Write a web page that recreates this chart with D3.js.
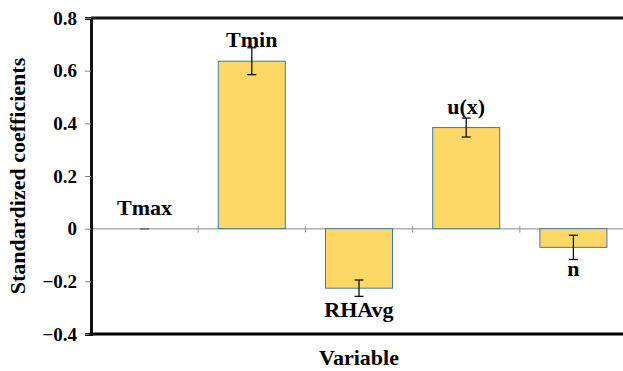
<!DOCTYPE html>
<html>
<head>
<meta charset="utf-8">
<script src="https://cdn.jsdelivr.net/npm/d3@7"></script>
<style>
  body { margin: 0; background: #fff; }
  svg { display: block; }
</style>
</head>
<body>
<div id="chart"></div>
<script>
const variables = ["Tmax", "Tmin", "RHAvg", "u(x)", "n"];
const coefficients = [0, 0.636, -0.226, 0.384, -0.071];
const errors = [0, 0.051, 0.031, 0.036, 0.046];
const yTicks = [-0.4, -0.2, 0, 0.2, 0.4, 0.6, 0.8];

const W = 623, H = 371;
const margin = { top: 18, right: -4, bottom: 37, left: 91 };
const FONT = "Liberation Serif";

const svg = d3.select("#chart").append("svg")
    .attr("width", W)
    .attr("height", H);

const x = d3.scaleBand()
    .domain(variables)
    .range([margin.left, W - margin.right])
    .paddingInner(0.375)
    .paddingOuter(0.1875);

const y = d3.scaleLinear()
    .domain([-0.4, 0.8])
    .range([H - margin.bottom, margin.top]);

const data = variables.map((v, i) => ({ name: v, value: coefficients[i], err: errors[i] }));

// frame top line
svg.append("line")
    .attr("x1", margin.left).attr("x2", W)
    .attr("y1", y(0.8)).attr("y2", y(0.8))
    .attr("stroke", "#111").attr("stroke-width", 3);

// zero line with category ticks
svg.append("line")
    .attr("x1", margin.left).attr("x2", W)
    .attr("y1", y(0)).attr("y2", y(0))
    .attr("stroke", "#b0b0b0").attr("stroke-width", 1.5);

const step = x.step();
svg.append("g")
    .selectAll("line")
    .data(variables.slice(1))
    .join("line")
        .attr("x1", d => x(d) - x.paddingInner() * step / 2)
        .attr("x2", d => x(d) - x.paddingInner() * step / 2)
        .attr("y1", y(0) - 3).attr("y2", y(0) + 4)
        .attr("stroke", "#999").attr("stroke-width", 1);

// bars
svg.append("g")
    .selectAll("rect")
    .data(data.filter(d => d.value !== 0))
    .join("rect")
        .attr("x", d => x(d.name))
        .attr("width", x.bandwidth())
        .attr("y", d => y(Math.max(0, d.value)))
        .attr("height", d => Math.abs(y(d.value) - y(0)))
        .attr("fill", "#fed866")
        .attr("stroke", "#3e7ba3")
        .attr("stroke-width", 1);

// error bars
const cap = 4.5;
const eb = svg.append("g").attr("stroke", "#111").attr("stroke-width", 1.3);
data.forEach(d => {
    const cx = x(d.name) + x.bandwidth() / 2;
    if (d.err > 0) {
        eb.append("line")
            .attr("x1", cx).attr("x2", cx)
            .attr("y1", y(d.value + d.err)).attr("y2", y(d.value - d.err));
    }
    eb.append("line")
        .attr("x1", cx - cap).attr("x2", cx + cap)
        .attr("y1", y(d.value + d.err)).attr("y2", y(d.value + d.err))
        .attr("stroke", d.err > 0 ? "#111" : "#666");
    eb.append("line")
        .attr("x1", cx - cap).attr("x2", cx + cap)
        .attr("y1", y(d.value - d.err)).attr("y2", y(d.value - d.err))
        .attr("stroke", d.err > 0 ? "#111" : "#666");
});

// bar labels
svg.append("g")
    .selectAll("text")
    .data(data)
    .join("text")
        .attr("x", d => x(d.name) + x.bandwidth() / 2)
        .attr("y", d => d.value >= 0 ? y(d.value) - 14 : y(d.value) + 29)
        .attr("text-anchor", "middle")
        .attr("font-family", FONT)
        .attr("font-weight", "bold")
        .attr("font-size", 22)
        .text(d => d.name);

// left axis
const yAxis = svg.append("g")
    .attr("transform", `translate(${margin.left},0)`)
    .call(d3.axisLeft(y).tickValues(yTicks).tickSize(6).tickPadding(8)
        .tickFormat(d => d === 0 ? "0" : d3.format(".1f")(d)));
yAxis.attr("font-family", FONT).attr("font-size", 19).attr("font-weight", "bold");
yAxis.select(".domain").attr("stroke", "#111").attr("stroke-width", 3);
yAxis.selectAll(".tick line").attr("stroke", "#888");
yAxis.selectAll(".tick text").attr("fill", "#000");

// bottom frame line
svg.append("line")
    .attr("x1", margin.left - 1.5).attr("x2", W)
    .attr("y1", y(-0.4)).attr("y2", y(-0.4))
    .attr("stroke", "#000").attr("stroke-width", 3);

// axis titles
svg.append("text")
    .attr("x", (margin.left + W - margin.right) / 2)
    .attr("y", 365)
    .attr("text-anchor", "middle")
    .attr("font-family", FONT)
    .attr("font-weight", "bold")
    .attr("font-size", 22)
    .text("Variable");

svg.append("text")
    .attr("transform", `translate(25,${(y(0.8) + y(-0.4)) / 2}) rotate(-90)`)
    .attr("text-anchor", "middle")
    .attr("font-family", FONT)
    .attr("font-weight", "bold")
    .attr("font-size", 22)
    .text("Standardized coefficients");
</script>
</body>
</html>
